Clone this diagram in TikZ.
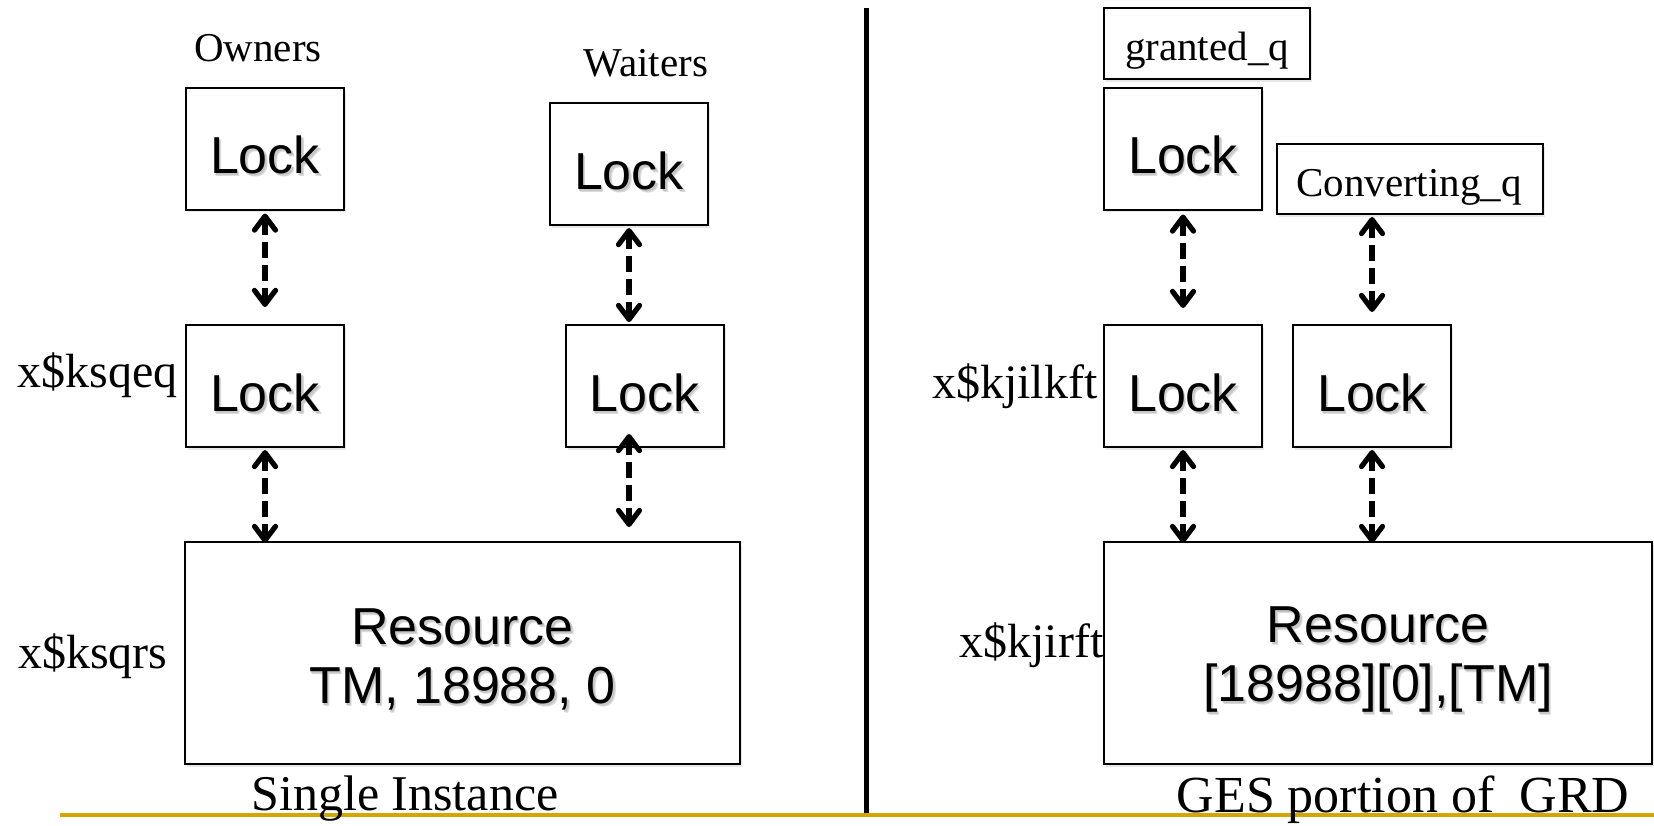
\documentclass[tikz,border=0pt]{standalone}
\usepackage{fontspec}
\setmainfont{Liberation Serif}
\newfontfamily\sansf{Liberation Sans}
\usetikzlibrary{arrows.meta,shadows}
\definecolor{rulegold}{RGB}{214,166,0}

% sans text with a soft grey shadow below right
\newcommand\shtxt[1]{\leavevmode
  \rlap{\kern1.2pt\raisebox{-1.6pt}{\color{black!14}#1}}%
  \rlap{\kern0.7pt\raisebox{-1.0pt}{\color{black!22}#1}}#1}

\begin{document}
\begin{tikzpicture}[x=0.5pt,y=-0.5pt,
  box/.style={draw=black, line width=1pt, fill=white, inner sep=0pt,
    drop shadow={shadow xshift=1pt, shadow yshift=-1.3pt, opacity=0.18}},
  lockbox/.style={box, minimum width=79pt, minimum height=61pt,
    text height=25pt, text depth=0pt,
    font=\sansf\fontsize{26}{29.5}\selectfont},
  resbox/.style={box, minimum height=111pt},
  restext/.style={inner sep=0pt, align=center, yshift=-4pt,
    font=\sansf\fontsize{26}{29.5}\selectfont},
  qtext/.style={inner sep=0pt, font=\fontsize{20.5}{24}\selectfont},
  tag/.style={inner sep=0pt, font=\fontsize{24}{28}\selectfont},
  title/.style={inner sep=0pt, font=\fontsize{25}{29}\selectfont},
  dbl/.style={line width=2.6pt, dash pattern=on 8pt off 3.5pt,
    {Straight Barb[length=7pt,width=10.5pt,round]}-{Straight Barb[length=7pt,width=10.5pt,round]}}
]
\fill[white] (0,0) rectangle (1654,825);
\useasboundingbox (0,0) rectangle (1654,825);

% ---- single instance side ----
\node[qtext, anchor=base] (ownlbl) at (258,61) {Owners};
\node[qtext, anchor=base] (waitlbl) at (646,76) {Waiters};

\node[lockbox] (own) at (265,148.5) {\shtxt{Lock}};
\node[lockbox] (wtop) at (629,164) {\shtxt{Lock}};
\node[lockbox] (ownq) at (265,386) {\shtxt{Lock}};
\node[lockbox] (wq) at (644.5,386) {\shtxt{Lock}};
\node[resbox, minimum width=277.5pt] (resl) at (462.5,653) {};
\node[restext] (reslt) at (resl.center) {\shtxt{Resource}\\\shtxt{TM, 18988, 0}};

\node[tag, anchor=base east] (tagksqeq) at (178,387) {x\$ksqeq};
\node[tag, anchor=base east] (tagksqrs) at (168,668) {x\$ksqrs};

\draw[dbl, shorten <=1.5pt, shorten >=8.5pt] (own.south) -- (ownq.north);
\draw[dbl, shorten <=1pt, shorten >=-1pt] (ownq.south) -- (ownq.south |- resl.north);
\draw[dbl, shorten <=1pt, shorten >=1pt] (wtop.south) -- (wtop.south |- wq.north);
\draw[dbl, shorten <=-7pt, shorten >=7pt] (wtop.south |- wq.south) -- (wtop.south |- resl.north);

% ---- GES side ----
\node[box, minimum width=103pt, minimum height=35.5pt] (gq) at (1207,43.5) {};
\node[qtext, anchor=base] (gqt) at (1207,60) {granted\_q};
\node[lockbox] (gl) at (1183,148.5) {\shtxt{Lock}};
\node[box, minimum width=133pt, minimum height=35pt] (cq) at (1410,179) {};
\node[qtext, anchor=base] (cqt) at (1409,196) {Converting\_q};
\node[lockbox] (gl2) at (1183,386) {\shtxt{Lock}};
\node[lockbox] (cl2) at (1372,386) {\shtxt{Lock}};
\node[resbox, minimum width=274pt] (resr) at (1378,653) {};
\node[restext] (resrt) at (resr.center) {\shtxt{Resource}\\\shtxt{[18988][0],[TM]}};

\node[tag, anchor=base east] (tagkjilkft) at (1098,398) {x\$kjilkft};
\node[tag, anchor=base east] (tagkjirft) at (1104,657) {x\$kjirft};

\draw[dbl, shorten <=2pt, shorten >=8pt] (gl.south) -- (gl2.north);
\draw[dbl, shorten <=1pt, shorten >=-1pt] (gl2.south) -- (gl2.south |- resr.north);
\draw[dbl, shorten <=1pt, shorten >=6pt] (cl2.north |- cq.south) -- (cl2.north);
\draw[dbl, shorten <=1pt, shorten >=-1pt] (cl2.south) -- (cl2.south |- resr.north);

% ---- divider and base rule ----
\coordinate (dtop) at (866.5,8);
\coordinate (dbot) at (866.5,814);
\draw[line width=2.5pt] (dtop) -- (dbot);
\coordinate (rl) at (60,815);
\coordinate (rr) at (1654,815);
\draw[rulegold, line width=2pt] (rl) -- (rr);

\node[title, anchor=base] (single) at (405,810) {Single Instance};
\node[title, anchor=base, font=\fontsize{26}{30}\selectfont] (ges) at (1403,812)
  {GES portion of\hspace{6pt} GRD};
\end{tikzpicture}
\end{document}
